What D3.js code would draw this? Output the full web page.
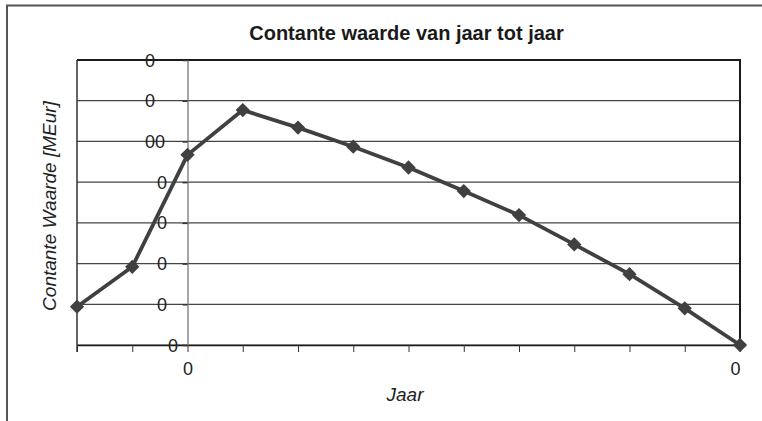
<!DOCTYPE html>
<html>
<head>
<meta charset="utf-8">
<script src="https://cdn.jsdelivr.net/npm/d3@7"></script>
<style>
  body { margin: 0; background: #fff; }
  svg { display: block; font-family: "Liberation Sans", Arial, sans-serif; }
</style>
</head>
<body>
<svg id="chart" width="762" height="421"></svg>
<script>
// data (y in grid units, bottom gridline = 0)
const years = [-2, -1, 0, 1, 2, 3, 4, 5, 6, 7, 8, 9, 10];
const values = [0.94, 1.92, 4.67, 5.77, 5.34, 4.87, 4.36, 3.78, 3.19, 2.47, 1.74, 0.90, 0];
const yTicks = [0, 1, 2, 3, 4, 5, 6, 7];
const yTickLabels = ["0", "0", "0", "0", "0", "00", "0", "0"];   // bottom to top, as shown (clipped)
const xTickLabels = ["", "", "0", "", "", "", "", "", "", "", "", "", "0"];

const titleText = "Contante waarde van jaar tot jaar";
const yTitle = "Contante Waarde [MEur]";
const xTitle = "Jaar";

// layout
const plot = {left: 77, right: 740, top: 60, bottom: 345};
// left edge of each y tick label (bottom to top), the labels sit unevenly in the original
const yLabelX = [168, 157, 157, 157, 157, 145, 145, 145];

var svg = d3.select("#chart");

// outer chart border
svg.append("rect")
  .attr("x", 7).attr("y", 5.5)
  .attr("width", 780).attr("height", 440)
  .attr("fill", "none")
  .attr("stroke", "#555")
  .attr("stroke-width", 2);

var x = d3.scaleLinear()
  .domain([d3.min(years), d3.max(years)])
  .range([plot.left, plot.right]);

var y = d3.scaleLinear()
  .domain([0, 7])
  .range([plot.bottom, plot.top]);

// horizontal gridlines
svg.append("g")
  .selectAll("line")
  .data(yTicks)
  .enter()
  .append("line")
  .attr("x1", plot.left).attr("x2", plot.right)
  .attr("y1", function(d) { return y(d); })
  .attr("y2", function(d) { return y(d); })
  .attr("stroke", function(d) { return d == 7 ? "#1a1a1a" : "#444"; })
  .attr("stroke-width", function(d) { return d == 7 ? 2 : 1.2; });

// right frame
svg.append("line")
  .attr("x1", plot.right).attr("x2", plot.right)
  .attr("y1", plot.top - 1).attr("y2", plot.bottom)
  .attr("stroke", "#1a1a1a").attr("stroke-width", 2);

// x axis with ticks
var xAxis = svg.append("g")
  .attr("transform", "translate(0," + plot.bottom + ")")
  .call(d3.axisBottom(x)
    .tickValues(years)
    .tickSize(7)
    .tickSizeOuter(0)
    .tickFormat(function(d, i) { return xTickLabels[i]; }));
xAxis.select(".domain").attr("stroke", "#1a1a1a").attr("stroke-width", 1.5);
xAxis.selectAll(".tick line").attr("stroke", "#333").attr("stroke-width", 1);
xAxis.selectAll(".tick text")
  .attr("y", 14)
  .attr("dy", "0.9em")
  .attr("font-size", 18)
  .attr("font-family", "Liberation Sans, Arial, sans-serif")
  .attr("fill", "#222");
xAxis.selectAll(".tick text").filter(function(d) { return d == 10; }).attr("dx", -5);

// left frame line
svg.append("line")
  .attr("x1", plot.left).attr("x2", plot.left)
  .attr("y1", plot.top).attr("y2", plot.bottom + 7)
  .attr("stroke", "#333").attr("stroke-width", 1.5);

// vertical axis at year 0
var yAxis = svg.append("g")
  .attr("transform", "translate(" + x(0) + ",0)")
  .call(d3.axisLeft(y).tickValues(yTicks).tickSize(5).tickSizeOuter(0).tickFormat(""));
yAxis.select(".domain").attr("stroke", "#777").attr("stroke-width", 1.3);
yAxis.selectAll(".tick line").attr("stroke", "#333").attr("stroke-width", 1.5);

// y tick labels
svg.append("g")
  .selectAll("text")
  .data(yTicks)
  .enter()
  .append("text")
  .attr("x", function(d, i) { return yLabelX[i]; })
  .attr("y", function(d) { return y(d) + 6.5; })
  .attr("font-size", 18)
  .attr("fill", "#222")
  .text(function(d, i) { return yTickLabels[i]; });

// line
var line = d3.line()
  .x(function(d, i) { return x(years[i]); })
  .y(function(d) { return y(d); });

svg.append("path")
  .datum(values)
  .attr("d", line)
  .attr("fill", "none")
  .attr("stroke", "#404040")
  .attr("stroke-width", 3.8)
  .attr("stroke-linejoin", "round");

// diamond markers
svg.append("g")
  .selectAll("path")
  .data(values)
  .enter()
  .append("path")
  .attr("transform", function(d, i) { return "translate(" + x(years[i]) + "," + y(d) + ")"; })
  .attr("d", d3.symbol().type(d3.symbolDiamond2).size(130))
  .attr("fill", "#404040");

// titles
svg.append("text")
  .attr("x", (plot.left + plot.right) / 2 - 2)
  .attr("y", 40)
  .attr("text-anchor", "middle")
  .attr("font-size", 20)
  .attr("font-weight", "bold")
  .attr("fill", "#1a1a1a")
  .text(titleText);

svg.append("text")
  .attr("transform", "translate(56,206) rotate(-90)")
  .attr("text-anchor", "middle")
  .attr("font-size", 19)
  .attr("font-style", "italic")
  .attr("fill", "#222")
  .text(yTitle);

svg.append("text")
  .attr("x", 405)
  .attr("y", 401)
  .attr("text-anchor", "middle")
  .attr("font-size", 19)
  .attr("font-style", "italic")
  .attr("fill", "#222")
  .text(xTitle);
</script>
</body>
</html>
